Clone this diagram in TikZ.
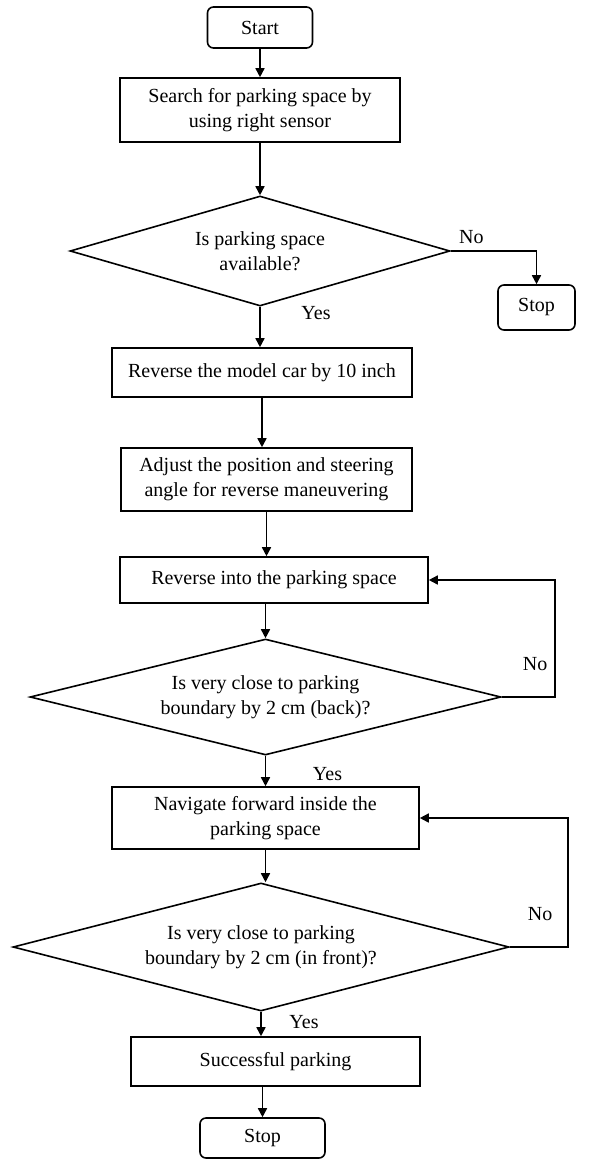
\documentclass[tikz,border=0pt]{standalone}
\usepackage{fontspec}
\setmainfont{Liberation Serif}
\usetikzlibrary{shapes.geometric,arrows.meta}

\begin{document}
\begin{tikzpicture}[x=0.5pt, y=-0.5pt, font=\fontsize{10}{12.5}\selectfont, line width=0.8pt,
	>={Triangle[length=4.5pt,width=4.5pt]},
	term/.style = {draw, rounded corners=3pt, inner sep=1pt},
	box/.style = {draw, align=center, inner sep=1pt},
	decide/.style = {draw, diamond, align=center, inner sep=0pt}]
	\useasboundingbox (0,0) rectangle (595,1161);
	\node[term, minimum width=52.5pt, minimum height=20.5pt] (1) at (260,27.5) {Start};
	\node[box, minimum width=140pt, minimum height=32pt] [below of=1, node distance=41.25pt] (2) {Search for parking space by\\using right sensor};
	\draw[->] (1) -- (2);
	\node[decide, minimum width=190pt, minimum height=55pt, aspect=3.45] [below of=2, node distance=70.5pt] (3) {Is parking space\\available?};
	\draw[->] (3.north |- 2.south) -- (3.north);
	\node[term, minimum width=38.5pt, minimum height=22.5pt] [right of=3, node distance=138.25pt, yshift=-28.25pt] (4) {Stop};
	\draw[->] (3.east) -| (4.north) node [pos=0.12, above] {No};
	\node[box, minimum width=150pt, minimum height=24.5pt] [below of=3, node distance=60.75pt, xshift=1pt] (5) {Reverse the model car by 10 inch};
	\draw[->] (3.south) -- (3.south |- 5.north) node [pos=0.15, right=17pt] {Yes};
	\node[box, minimum width=145.5pt, minimum height=31.5pt] [below of=5, node distance=53.5pt, xshift=2.25pt] (6) {Adjust the position and steering\\angle for reverse maneuvering};
	\draw[->] (5.south) -- (5.south |- 6.north);
	\node[box, minimum width=154pt, minimum height=23pt] [below of=6, node distance=50.25pt, xshift=3.75pt] (7) {Reverse into the parking space};
	\draw[->] (6.south) -- (6.south |- 7.north);
	\node[decide, minimum width=235.5pt, minimum height=58pt, aspect=4.06] [below of=7, node distance=58.5pt, xshift=-4.25pt] (8) {Is very close to parking\\boundary by 2 cm (back)?};
	\draw[->] (8.north |- 7.south) -- (8.north);
	\draw[->] (8.east) -- ++(53,0) |- (7.east) node [pos=0.14, left] {No};
	\node[box, minimum width=153.5pt, minimum height=31pt] [below of=8, node distance=60.5pt] (9) {Navigate forward inside the\\parking space};
	\draw[->] (8) -- (9) node [pos=0.6, right=20pt] {Yes};
	\node[decide, minimum width=248pt, minimum height=64pt, aspect=3.9] [below of=9, node distance=64.5pt, xshift=-2.25pt] (10) {Is very close to parking\\boundary by 2 cm (in front)?};
	\draw[->] (9.south) -- (9.south |- 10.north);
	\draw[->] (10.east) -- ++(58,0) |- (9.east) node [pos=0.128, left=4pt] {No};
	\node[box, minimum width=144.5pt, minimum height=24.5pt] [below of=10, node distance=57.25pt, xshift=7.25pt] (11) {Successful parking};
	\draw[->] (10.south) -- (10.south |- 11.north) node [pos=0.4, right=10.5pt] {Yes};
	\node[term, minimum width=62.5pt, minimum height=20pt] [below of=11, node distance=38.25pt, xshift=-6.5pt] (12) {Stop};
	\draw[->] (12.north |- 11.south) -- (12.north);
\end{tikzpicture}
\end{document}
